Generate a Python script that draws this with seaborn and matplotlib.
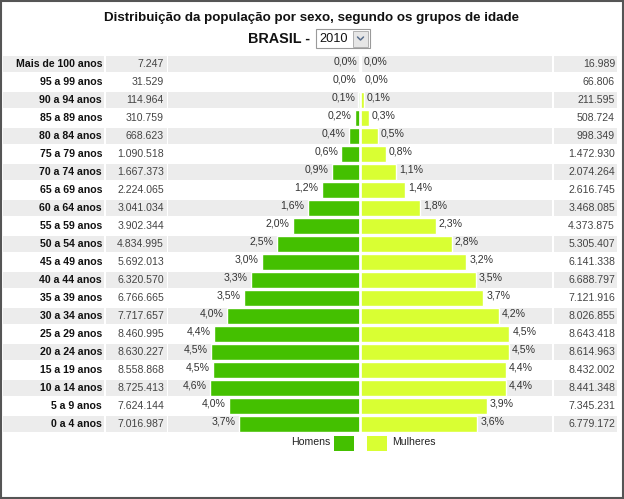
import pandas as pd
import seaborn as sns
import matplotlib.pyplot as plt
from matplotlib.patches import Rectangle

# dados do censo 2010 (IBGE)
grupos = ['Mais de 100 anos', '95 a 99 anos', '90 a 94 anos', '85 a 89 anos', '80 a 84 anos',
          '75 a 79 anos', '70 a 74 anos', '65 a 69 anos', '60 a 64 anos', '55 a 59 anos',
          '50 a 54 anos', '45 a 49 anos', '40 a 44 anos', '35 a 39 anos', '30 a 34 anos',
          '25 a 29 anos', '20 a 24 anos', '15 a 19 anos', '10 a 14 anos', '5 a 9 anos', '0 a 4 anos']
homens = [7247, 31529, 114964, 310759, 668623, 1090518, 1667373, 2224065, 3041034, 3902344,
          4834995, 5692013, 6320570, 6766665, 7717657, 8460995, 8630227, 8558868, 8725413,
          7624144, 7016987]
mulheres = [16989, 66806, 211595, 508724, 998349, 1472930, 2074264, 2616745, 3468085, 4373875,
            5305407, 6141338, 6688797, 7121916, 8026855, 8643418, 8614963, 8432002, 8441348,
            7345231, 6779172]
titulo = 'Distribuição da população por sexo, segundo os grupos de idade'
ano = '2010'

verde = '#44c000'
amarelo = '#d9ff33'
cinza = '#ececec'

sns.set_style('white')
plt.rcParams['font.family'] = ['Liberation Sans', 'DejaVu Sans']

total = sum(homens) + sum(mulheres)
pct_h = [v / total * 100 for v in homens]
pct_m = [v / total * 100 for v in mulheres]

df = pd.DataFrame({
    'grupo': grupos * 2,
    'sexo': ['Homens'] * len(grupos) + ['Mulheres'] * len(grupos),
    'valor': [-p for p in pct_h] + pct_m,
})

W, H = 624, 499
fig = plt.figure(figsize=(W / 100, H / 100), dpi=100)

# fundo em coordenadas de pixel
bg = fig.add_axes([0, 0, 1, 1])
bg.set_xlim(0, W)
bg.set_ylim(H, 0)
bg.axis('off')

# eixo das barras
x0, x1 = 3, 621
zero_px = 360.3
px_pct = 32.9
top_px, bot_px = 54.8, 432.8
ax = fig.add_axes([x0 / W, 1 - bot_px / H, (x1 - x0) / W, (bot_px - top_px) / H])
ax.patch.set_visible(False)

sns.barplot(data=df, x='valor', y='grupo', hue='sexo', order=grupos,
            hue_order=['Homens', 'Mulheres'], palette=[verde, amarelo],
            dodge=False, width=0.87, orient='h', errorbar=None, saturation=1,
            legend=False, ax=ax, zorder=2)
ax.set_xlim((x0 - zero_px) / px_pct, (x1 - zero_px) / px_pct)
ax.set_ylim(len(grupos) - 0.5, -0.5)
ax.axvline(0, color='white', lw=1.9, zorder=3)
ax.set_axis_off()


def frac(px):
    return (px - x0) / (x1 - x0)


celulas = [(3, 104), (106, 166.7), (168.3, 552), (554, 617)]
tr = ax.get_yaxis_transform()
for i, g in enumerate(grupos):
    if i % 2 == 0:
        for a, b in celulas:
            ax.axhspan(i - 0.435, i + 0.435, frac(a), frac(b), color=cinza, lw=0, zorder=0)
    ax.text(frac(102), i, g, transform=tr, ha='right', va='center',
            fontsize=7.6, fontweight='bold', color='#111')
    ax.text(frac(164), i, f'{homens[i]:,}'.replace(',', '.'), transform=tr,
            ha='right', va='center', fontsize=7.6, color='#444')
    ax.text(frac(615), i, f'{mulheres[i]:,}'.replace(',', '.'), transform=tr,
            ha='right', va='center', fontsize=7.6, color='#444')
    ax.text(-pct_h[i] - 0.1, i - 0.12, f'{pct_h[i]:.1f}%'.replace('.', ','),
            ha='right', va='center', fontsize=7.6, color='#333')
    ax.text(pct_m[i] + 0.09, i - 0.12, f'{pct_m[i]:.1f}%'.replace('.', ','),
            ha='left', va='center', fontsize=7.6, color='#333')

# titulo e seletor de ano
bg.text(312, 18, titulo, ha='center', va='center', fontsize=9.6, fontweight='bold', color='#111')
bg.text(310, 38.5, 'BRASIL -', ha='right', va='center', fontsize=10.4, fontweight='bold', color='#111')
bg.add_patch(Rectangle((315.5, 29), 54, 19, facecolor='white', edgecolor='#9a9a9a', lw=0.8))
bg.add_patch(Rectangle((353, 30.5), 15, 16, facecolor='#e6e6e6', edgecolor='#b0b0b0', lw=0.7))
bg.plot([357.5, 360.5, 363.5], [37, 40, 37], color='#5a6e8c', lw=1.1, solid_capstyle='round')
bg.text(319, 38.5, ano, ha='left', va='center', fontsize=9.2, color='#111')

# legenda
bg.text(330, 442, 'Homens', ha='right', va='center', fontsize=7.6, color='#222')
bg.add_patch(Rectangle((334, 435.5), 20, 15, facecolor=verde, lw=0))
bg.add_patch(Rectangle((367.3, 435.5), 19.5, 15, facecolor=amarelo, lw=0))
bg.text(392.5, 442, 'Mulheres', ha='left', va='center', fontsize=7.6, color='#222')

# moldura
bg.add_patch(Rectangle((1, 1), W - 2, H - 2, fill=False, edgecolor='#555555', lw=1.5))

fig.savefig('out.png', dpi=100)
